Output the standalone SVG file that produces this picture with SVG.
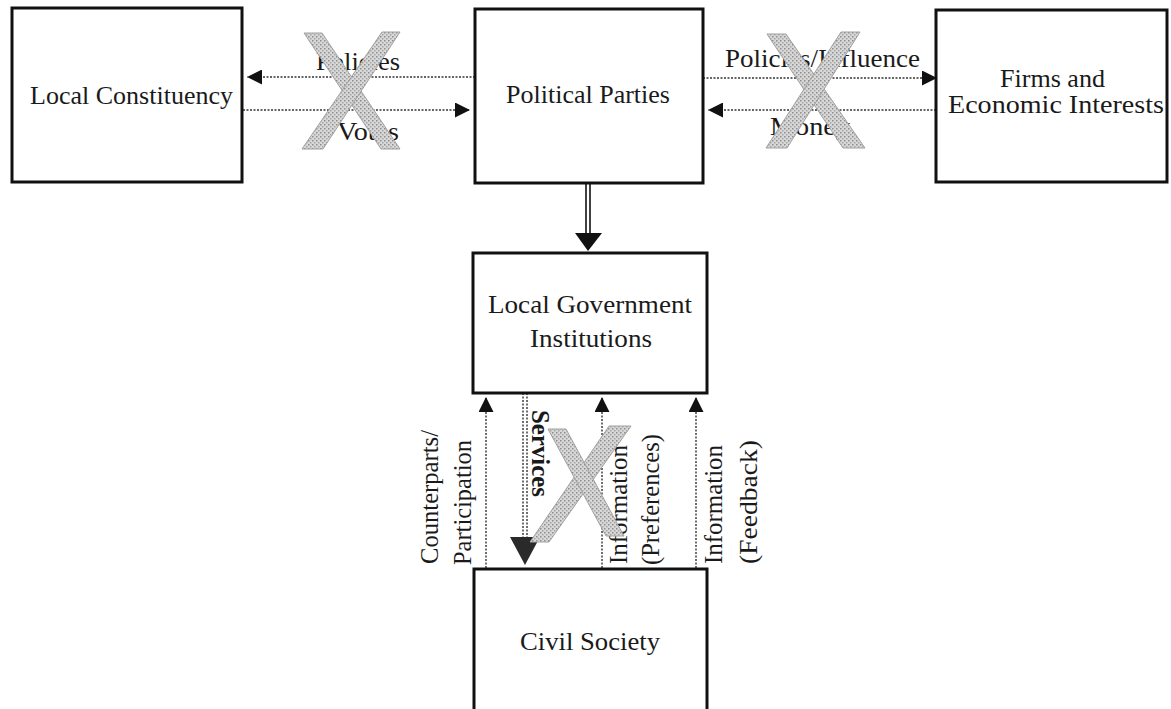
<svg xmlns="http://www.w3.org/2000/svg" width="1171" height="709" viewBox="0 0 1171 709">
<style>
.box{fill:#fff;stroke:#111;stroke-width:3}
.lbl{font-family:"Liberation Serif","Times New Roman",serif;font-size:25px;fill:#1a1a1a}
.vl{font-family:"Liberation Serif","Times New Roman",serif;font-size:24.5px;fill:#1a1a1a}
.dot{stroke:#333;stroke-width:1.4;stroke-dasharray:2 1.5;fill:none}
.solid{stroke:#111;stroke-width:1.6;fill:none}
.cross{fill:url(#hatch);stroke:#a0a0a0;stroke-width:1}
</style>
<defs>
<marker id="tri" markerUnits="userSpaceOnUse" viewBox="0 0 16 16" refX="16" refY="8" markerWidth="16" markerHeight="15" orient="auto">
<path d="M0,0 L16,8 L0,16 z" fill="#111"/>
</marker>
<pattern id="hatch" patternUnits="userSpaceOnUse" width="4" height="4">
<rect width="4" height="4" fill="#d8d8d8"/>
<rect x="0" y="0" width="1.5" height="1.5" fill="#8c8c8c"/>
<rect x="2" y="2" width="1.5" height="1.5" fill="#a4a4a4"/>
</pattern>
</defs>
<rect width="1171" height="709" fill="#fff"/>

<g id="connectors">
<line class="dot" x1="475" y1="77" x2="247" y2="77" marker-end="url(#tri)"/>
<line class="dot" x1="243" y1="110" x2="470" y2="110" marker-end="url(#tri)"/>
<line class="dot" x1="703" y1="78" x2="937" y2="78" marker-end="url(#tri)"/>
<line class="dot" x1="936" y1="110" x2="708" y2="110" marker-end="url(#tri)"/>
<line class="solid" x1="586" y1="183" x2="586" y2="234"/>
<line class="solid" x1="590" y1="183" x2="590" y2="234"/>
<polygon points="575,233 602,233 588,251" fill="#111"/>
<line class="dot" x1="486" y1="568" x2="486" y2="397" marker-end="url(#tri)"/>
<line class="dot" x1="523" y1="393" x2="523" y2="538"/>
<line class="dot" x1="527" y1="393" x2="527" y2="538"/>
<polygon points="510,537 540,537 525,565" fill="#2a2a2a"/>
<line class="dot" x1="602" y1="568" x2="602" y2="397" marker-end="url(#tri)"/>
<line class="dot" x1="696" y1="568" x2="696" y2="397" marker-end="url(#tri)"/>
<text class="lbl" x="316" y="70" textLength="84" lengthAdjust="spacingAndGlyphs">Policies</text>
<text class="lbl" x="337" y="140" textLength="62" lengthAdjust="spacingAndGlyphs">Votes</text>
<text class="lbl" x="725" y="67" textLength="195" lengthAdjust="spacingAndGlyphs">Policies/Influence</text>
<text class="lbl" x="770" y="135" textLength="80" lengthAdjust="spacingAndGlyphs">Money</text>
<text class="vl" transform="translate(438,564) rotate(-90)" textLength="134" lengthAdjust="spacingAndGlyphs">Counterparts/</text>
<text class="vl" transform="translate(471,565) rotate(-90)" textLength="125" lengthAdjust="spacingAndGlyphs">Participation</text>
<text class="vl" font-weight="bold" transform="translate(532,410) rotate(90)" textLength="87" lengthAdjust="spacingAndGlyphs">Services</text>
<text class="vl" transform="translate(627,564) rotate(-90)" textLength="119" lengthAdjust="spacingAndGlyphs">Information</text>
<text class="vl" transform="translate(659,565) rotate(-90)" textLength="131" lengthAdjust="spacingAndGlyphs">(Preferences)</text>
<text class="vl" transform="translate(722,564) rotate(-90)" textLength="119" lengthAdjust="spacingAndGlyphs">Information</text>
<text class="vl" transform="translate(757,564) rotate(-90)" textLength="124" lengthAdjust="spacingAndGlyphs">(Feedback)</text>
</g>

<g id="node-local-constituency">
<rect class="box" x="12" y="8" width="230" height="174"/>
<text class="lbl" x="30" y="104" textLength="203" lengthAdjust="spacingAndGlyphs">Local Constituency</text>
</g>
<g id="node-political-parties">
<rect class="box" x="475" y="9" width="228" height="174"/>
<text class="lbl" x="506" y="103" textLength="164" lengthAdjust="spacingAndGlyphs">Political Parties</text>
</g>
<g id="node-firms">
<rect class="box" x="936" y="10" width="231" height="172"/>
<text class="lbl" x="1000" y="87" textLength="105" lengthAdjust="spacingAndGlyphs">Firms and</text>
<text class="lbl" x="948" y="113" textLength="216" lengthAdjust="spacingAndGlyphs">Economic Interests</text>
</g>
<g id="node-local-government">
<rect class="box" x="473" y="253" width="234" height="140"/>
<text class="lbl" x="488" y="313" textLength="204" lengthAdjust="spacingAndGlyphs">Local Government</text>
<text class="lbl" x="530" y="347" textLength="122" lengthAdjust="spacingAndGlyphs">Institutions</text>
</g>
<g id="node-civil-society">
<path class="box" d="M474,712 V569 H707 V712"/>
<text class="lbl" x="520" y="650" textLength="140" lengthAdjust="spacingAndGlyphs">Civil Society</text>
</g>

<g id="crosses">
<polygon class="cross" points="304,33 322,33 400,149 381,149"/>
<polygon class="cross" points="382,32 400,32 323,149 302,149"/>
<polygon class="cross" points="767,34 786,34 865,148 843,148"/>
<polygon class="cross" points="841,32 860,32 787,148 766,148"/>
<polygon class="cross" points="609,426 631,426 549,542 530,542"/>
<polygon class="cross" points="548,429 566,429 624,536 606,536"/>
</g>
</svg>
